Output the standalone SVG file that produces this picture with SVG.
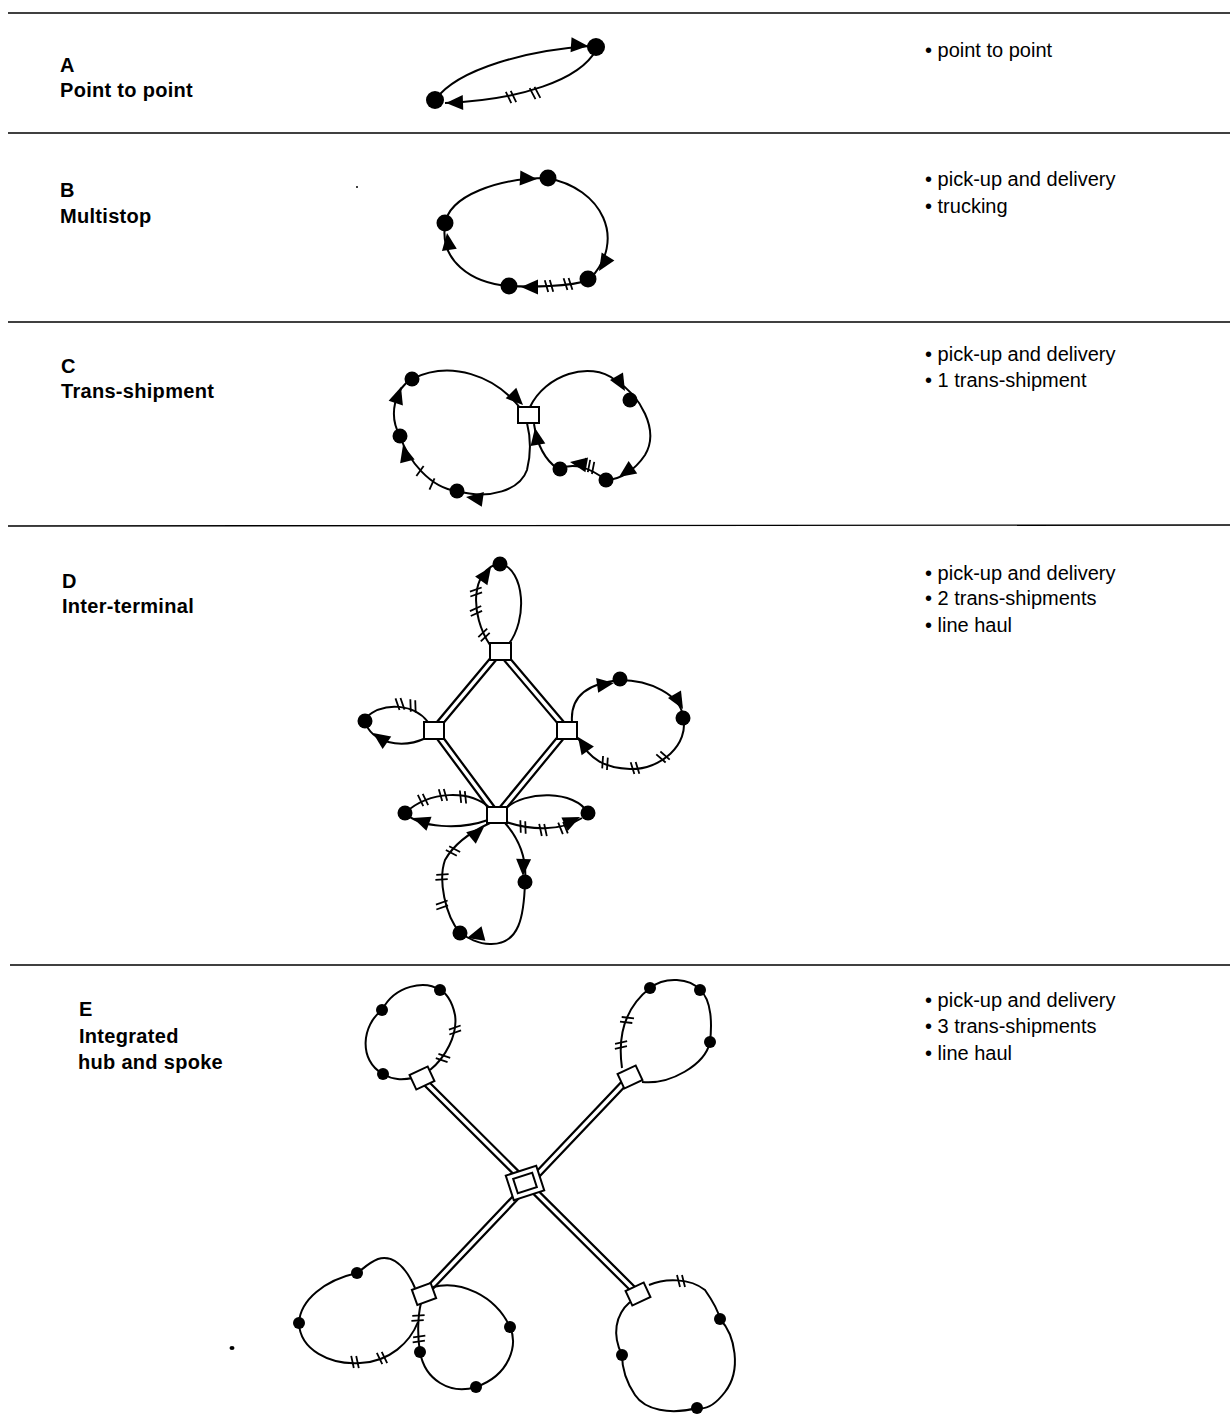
<svg xmlns="http://www.w3.org/2000/svg" xmlns:xlink="http://www.w3.org/1999/xlink" width="1230" height="1425" viewBox="0 0 1230 1425">
<style>
.ln{fill:none;stroke:#000;stroke-width:2}
.tk{fill:none;stroke:#000;stroke-width:1.8}
.nd{fill:#000}
.sq{fill:#fff;stroke:#000;stroke-width:2}
.railo{fill:none;stroke:#000;stroke-width:8}
.raili{fill:none;stroke:#fff;stroke-width:3.5}
.sep{stroke:#000;stroke-width:1.4}
.lbl{font-family:"Liberation Sans",Arial,Helvetica,sans-serif;font-size:20px;font-weight:bold;fill:#000;letter-spacing:0.3px}
.note{font-family:"Liberation Sans",Arial,Helvetica,sans-serif;font-size:20px;fill:#000}
</style>
<defs>
<path id="ah" d="M0,0 L-17,-7.5 L-17,7.5 Z" fill="#000"/>
<path id="t2" class="tk" d="M-4,-6 L-1,6 M1,-6 L4,6"/>
<path id="t3" class="tk" d="M-6,-6 L-3,6 M-1.5,-6 L1.5,6 M3,-6 L6,6"/>
<path id="t1" class="tk" d="M-1.5,-6 L1.5,6"/>
</defs>
<rect width="1230" height="1425" fill="#fff"/>

<!-- section dividers -->
<g id="dividers">
<line class="sep" x1="8" y1="13" x2="1230" y2="13"/>
<line class="sep" x1="8" y1="133" x2="1230" y2="133"/>
<line class="sep" x1="8" y1="322" x2="1230" y2="322"/>
<line class="sep" x1="8" y1="526" x2="1230" y2="525"/>
<line class="sep" x1="10" y1="965" x2="1230" y2="965"/>
</g>

<!-- labels -->
<g id="labels">
<text class="lbl" x="60" y="72">A</text>
<text class="lbl" x="60" y="97">Point to point</text>
<text class="lbl" x="60" y="197">B</text>
<text class="lbl" x="60" y="223">Multistop</text>
<text class="lbl" x="61" y="373">C</text>
<text class="lbl" x="61" y="398">Trans-shipment</text>
<text class="lbl" x="62" y="588">D</text>
<text class="lbl" x="62" y="613">Inter-terminal</text>
<text class="lbl" x="79" y="1016">E</text>
<text class="lbl" x="79" y="1043">Integrated</text>
<text class="lbl" x="78" y="1069">hub and spoke</text>

<text class="note" x="925" y="57">• point to point</text>
<text class="note" x="925" y="186">• pick-up and delivery</text>
<text class="note" x="925" y="213">• trucking</text>
<text class="note" x="925" y="361">• pick-up and delivery</text>
<text class="note" x="925" y="387">• 1 trans-shipment</text>
<text class="note" x="925" y="580">• pick-up and delivery</text>
<text class="note" x="925" y="605">• 2 trans-shipments</text>
<text class="note" x="925" y="632">• line haul</text>
<text class="note" x="925" y="1007">• pick-up and delivery</text>
<text class="note" x="925" y="1033">• 3 trans-shipments</text>
<text class="note" x="925" y="1060">• line haul</text>
</g>

<g id="connectors">
<!-- A: point to point -->
<path class="ln" d="M435,100 C458,68 530,50 590,46"/>
<path class="ln" d="M596,50 C580,80 520,100 445,103"/>
<use href="#ah" transform="translate(588,46) rotate(4)"/>
<use href="#ah" transform="translate(446,103) rotate(178)"/>
<use href="#t2" transform="translate(511,97) rotate(-12)"/>
<use href="#t2" transform="translate(535,93) rotate(-14)"/>

<!-- B: multistop loop -->
<path class="ln" d="M547,178 C602,188 628,240 589,280 C570,287 530,287 509,286 C470,283 440,260 445,225 C448,195 500,178 547,178 Z"/>
<use href="#ah" transform="translate(537,179) rotate(3)"/>
<use href="#ah" transform="translate(447,233) rotate(-98)"/>
<use href="#ah" transform="translate(599,271) rotate(122)"/>
<use href="#ah" transform="translate(521,287) rotate(180)"/>
<use href="#t2" transform="translate(549,286) rotate(-2)"/>
<use href="#t2" transform="translate(568,284) rotate(-4)"/>

<!-- C: trans-shipment -->
<path class="ln" d="M521,409 C495,375 450,360 412,379 C395,388 388,415 400,436 C408,460 430,488 457,491 C490,500 520,490 527,470 C532,450 530,435 527,423"/>
<path class="ln" d="M530,407 C545,375 590,360 615,380 C640,395 660,430 645,455 C635,470 620,480 606,480 C590,468 575,462 558,469 C545,460 537,445 534,424"/>
<use href="#ah" transform="translate(523,405) rotate(45)"/>
<use href="#ah" transform="translate(401,387) rotate(-72)"/>
<use href="#ah" transform="translate(403,445) rotate(-105)"/>
<use href="#ah" transform="translate(466,497) rotate(188)"/>
<use href="#ah" transform="translate(625,391) rotate(60)"/>
<use href="#ah" transform="translate(619,477) rotate(145)"/>
<use href="#ah" transform="translate(570,462) rotate(190)"/>
<use href="#ah" transform="translate(535,428) rotate(-100)"/>
<use href="#t1" transform="translate(420,471) rotate(50)"/>
<use href="#t1" transform="translate(432,484) rotate(38)"/>
<use href="#t3" transform="translate(589,466) rotate(25)"/>

<!-- D: rails between terminals -->
<g>
<path class="railo" d="M500,651 L434,730 L497,815 L567,730 Z"/>
<path class="raili" d="M500,651 L434,730 L497,815 L567,730 Z"/>
</g>
<!-- D: top loop -->
<path class="ln" d="M490,645 C470,615 470,570 500,563 C525,570 528,620 508,645"/>
<use href="#ah" transform="translate(491,567) rotate(-55)"/>
<use href="#t2" transform="translate(476,592) rotate(-95)"/>
<use href="#t2" transform="translate(476,611) rotate(-100)"/>
<use href="#t2" transform="translate(484,635) rotate(-120)"/>
<!-- D: left loop -->
<path class="ln" d="M428,722 C415,705 385,700 365,718 M365,722 C372,742 400,750 426,738"/>
<use href="#ah" transform="translate(373,733) rotate(-145)"/>
<use href="#t2" transform="translate(400,704) rotate(-5)"/>
<use href="#t2" transform="translate(413,706) rotate(12)"/>
<!-- D: right loop -->
<path class="ln" d="M572,722 C570,695 590,683 620,680 C650,680 680,695 683,716 C690,745 660,770 630,769 C605,768 590,760 578,738"/>
<use href="#ah" transform="translate(614,683) rotate(-8)"/>
<use href="#ah" transform="translate(683,709) rotate(60)"/>
<use href="#ah" transform="translate(578,737) rotate(-125)"/>
<use href="#t2" transform="translate(663,757) rotate(-35)"/>
<use href="#t2" transform="translate(635,768) rotate(-3)"/>
<use href="#t2" transform="translate(605,763) rotate(18)"/>
<!-- D: lower-left loop -->
<path class="ln" d="M490,808 C470,790 430,790 405,813 C420,828 460,830 488,820"/>
<use href="#ah" transform="translate(413,818) rotate(-160)"/>
<use href="#t2" transform="translate(423,800) rotate(-12)"/>
<use href="#t2" transform="translate(443,795) rotate(-2)"/>
<use href="#t2" transform="translate(463,797) rotate(8)"/>
<!-- D: lower-right loop -->
<path class="ln" d="M505,809 C525,790 575,790 588,813 M506,822 C530,830 560,832 582,818"/>
<use href="#ah" transform="translate(580,817) rotate(-25)"/>
<use href="#t2" transform="translate(523,827) rotate(12)"/>
<use href="#t2" transform="translate(543,830) rotate(2)"/>
<use href="#t2" transform="translate(563,828) rotate(-8)"/>
<!-- D: bottom loop -->
<path class="ln" d="M505,823 C520,840 527,860 525,882 C524,915 520,945 490,944 C478,944 468,938 460,933 C445,915 438,880 445,860 C455,842 475,830 490,823"/>
<use href="#ah" transform="translate(484,827) rotate(-40)"/>
<use href="#ah" transform="translate(523,876) rotate(92)"/>
<use href="#ah" transform="translate(467,938) rotate(165)"/>
<use href="#t2" transform="translate(453,851) rotate(-48)"/>
<use href="#t2" transform="translate(442,877) rotate(-80)"/>
<use href="#t2" transform="translate(442,905) rotate(-95)"/>

<!-- E: rails to central hub -->
<g>
<path class="railo" d="M421,1078 L638,1294 M630,1077 L424,1294"/>
<path class="raili" d="M421,1078 L638,1294 M630,1077 L424,1294"/>
</g>
<!-- E: upper-left loop -->
<path class="ln" d="M430,1070 C445,1058 458,1035 455,1015 C452,1000 445,992 440,990 C425,980 395,985 382,1010 C362,1025 358,1060 383,1074 C393,1080 402,1080 413,1078"/>
<use href="#t2" transform="translate(455,1030) rotate(-95)"/>
<use href="#t2" transform="translate(443,1058) rotate(-58)"/>
<!-- E: upper-right loop -->
<path class="ln" d="M622,1068 C618,1040 622,1010 650,988 C665,976 690,978 700,990 C712,1000 712,1025 710,1042 C705,1065 670,1085 642,1082"/>
<use href="#t2" transform="translate(627,1020) rotate(-70)"/>
<use href="#t2" transform="translate(621,1045) rotate(-88)"/>
<!-- E: lower-left loops -->
<path class="ln" d="M415,1288 C405,1265 392,1255 378,1259 C368,1263 362,1270 357,1273 C325,1280 300,1300 299,1323 C300,1350 330,1365 360,1363 C390,1362 410,1342 418,1322"/>
<path class="ln" d="M433,1287 C460,1280 495,1295 510,1327 C518,1345 510,1375 476,1387 C450,1395 425,1380 420,1352 C417,1335 418,1315 421,1303"/>
<use href="#t2" transform="translate(355,1362) rotate(2)"/>
<use href="#t2" transform="translate(382,1358) rotate(-12)"/>
<use href="#t2" transform="translate(418,1318) rotate(-80)"/>
<use href="#t2" transform="translate(419,1339) rotate(-85)"/>
<!-- E: lower-right loop -->
<path class="ln" d="M649,1285 C665,1278 690,1278 705,1290 C712,1300 718,1310 720,1319 C735,1335 742,1370 725,1392 C715,1405 705,1410 697,1408 C670,1415 645,1410 635,1395 C625,1380 622,1365 622,1355 C612,1335 615,1315 630,1302"/>
<use href="#t2" transform="translate(681,1281) rotate(0)"/>
</g>

<!-- A nodes -->
<g id="a-stop-1"><circle class="nd" cx="435" cy="100" r="9"/></g>
<g id="a-stop-2"><circle class="nd" cx="596" cy="47" r="9"/></g>

<!-- B nodes -->
<g id="b-stop-1"><circle class="nd" cx="548" cy="178" r="8.5"/></g>
<g id="b-stop-2"><circle class="nd" cx="445" cy="223" r="8.5"/></g>
<g id="b-stop-3"><circle class="nd" cx="509" cy="286" r="8.5"/></g>
<g id="b-stop-4"><circle class="nd" cx="588" cy="279" r="8.5"/></g>

<!-- C nodes -->
<g id="c-terminal"><rect class="sq" x="518" y="407" width="21" height="16"/></g>
<g id="c-stop-1"><circle class="nd" cx="412" cy="379" r="7.5"/></g>
<g id="c-stop-2"><circle class="nd" cx="400" cy="436" r="7.5"/></g>
<g id="c-stop-3"><circle class="nd" cx="457" cy="491" r="7.5"/></g>
<g id="c-stop-4"><circle class="nd" cx="630" cy="400" r="7.5"/></g>
<g id="c-stop-5"><circle class="nd" cx="606" cy="480" r="7.5"/></g>
<g id="c-stop-6"><circle class="nd" cx="560" cy="469" r="7.5"/></g>

<!-- D nodes -->
<g id="d-terminal-top"><rect class="sq" x="490" y="643" width="21" height="17"/></g>
<g id="d-terminal-left"><rect class="sq" x="424" y="722" width="20" height="17"/></g>
<g id="d-terminal-right"><rect class="sq" x="557" y="722" width="20" height="17"/></g>
<g id="d-terminal-bottom"><rect class="sq" x="487" y="807" width="20" height="16"/></g>
<g id="d-stop-1"><circle class="nd" cx="500" cy="564" r="7.5"/></g>
<g id="d-stop-2"><circle class="nd" cx="365" cy="721" r="7.5"/></g>
<g id="d-stop-3"><circle class="nd" cx="620" cy="679" r="7.5"/></g>
<g id="d-stop-4"><circle class="nd" cx="683" cy="718" r="7.5"/></g>
<g id="d-stop-5"><circle class="nd" cx="405" cy="813" r="7.5"/></g>
<g id="d-stop-6"><circle class="nd" cx="588" cy="813" r="7.5"/></g>
<g id="d-stop-7"><circle class="nd" cx="525" cy="882" r="7.5"/></g>
<g id="d-stop-8"><circle class="nd" cx="460" cy="933" r="7.5"/></g>

<!-- E nodes -->
<g id="e-hub" transform="translate(525,1183) rotate(-18)">
<rect class="sq" x="-16" y="-13" width="32" height="26"/>
<rect class="sq" x="-10" y="-7.5" width="20" height="15"/>
</g>
<g id="e-terminal-ul"><rect class="sq" x="-10" y="-8" width="20" height="16" transform="translate(422,1078) rotate(-25)"/></g>
<g id="e-terminal-ur"><rect class="sq" x="-10" y="-8" width="20" height="16" transform="translate(630,1077) rotate(-25)"/></g>
<g id="e-terminal-ll"><rect class="sq" x="-10" y="-8" width="20" height="16" transform="translate(424,1294) rotate(-20)"/></g>
<g id="e-terminal-lr"><rect class="sq" x="-10" y="-8" width="20" height="16" transform="translate(638,1294) rotate(-25)"/></g>
<g id="e-stop-1"><circle class="nd" cx="440" cy="990" r="6"/></g>
<g id="e-stop-2"><circle class="nd" cx="382" cy="1010" r="6"/></g>
<g id="e-stop-3"><circle class="nd" cx="383" cy="1074" r="6"/></g>
<g id="e-stop-4"><circle class="nd" cx="650" cy="988" r="6"/></g>
<g id="e-stop-5"><circle class="nd" cx="700" cy="990" r="6"/></g>
<g id="e-stop-6"><circle class="nd" cx="710" cy="1042" r="6"/></g>
<g id="e-stop-7"><circle class="nd" cx="357" cy="1273" r="6"/></g>
<g id="e-stop-8"><circle class="nd" cx="299" cy="1323" r="6"/></g>
<g id="e-stop-9"><circle class="nd" cx="510" cy="1327" r="6"/></g>
<g id="e-stop-10"><circle class="nd" cx="420" cy="1352" r="6"/></g>
<g id="e-stop-11"><circle class="nd" cx="476" cy="1387" r="6"/></g>
<g id="e-stop-12"><circle class="nd" cx="720" cy="1319" r="6"/></g>
<g id="e-stop-13"><circle class="nd" cx="622" cy="1355" r="6"/></g>
<g id="e-stop-14"><circle class="nd" cx="697" cy="1408" r="6"/></g>

<!-- stray marks on the sheet -->
<g id="specks">
<ellipse cx="232" cy="1348" rx="2.5" ry="2" fill="#000"/>
<circle cx="357" cy="187" r="1" fill="#000"/>
</g>
</svg>
